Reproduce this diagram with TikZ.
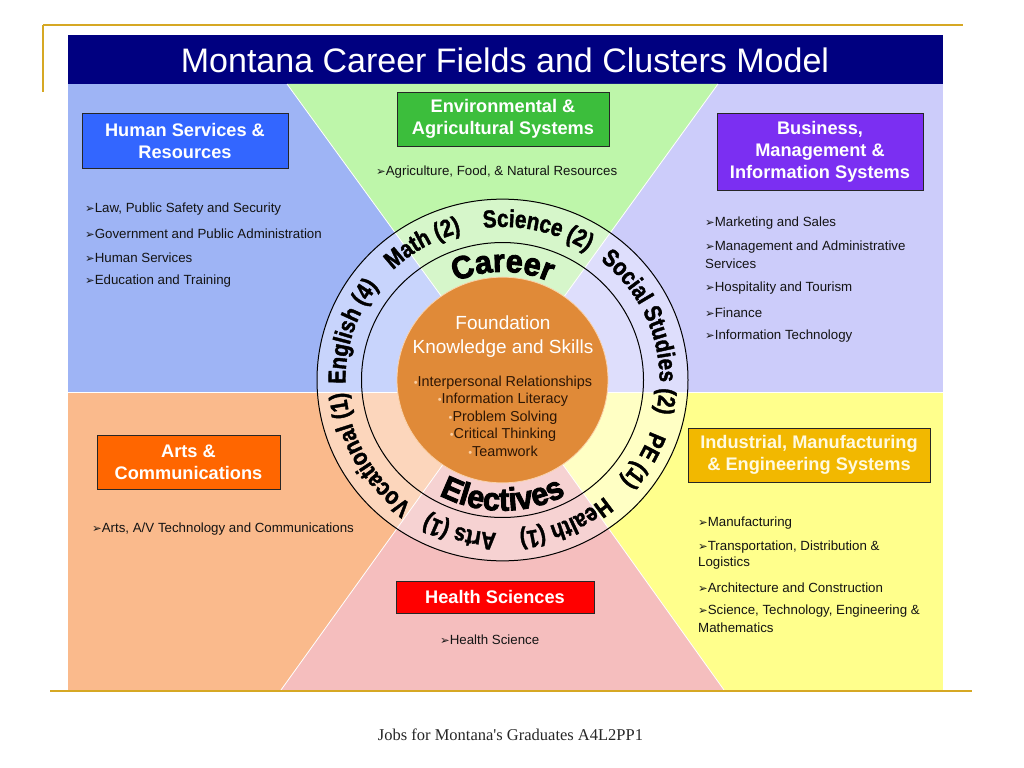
\documentclass[tikz,border=0pt]{standalone}
\usepackage{fontspec}
\setmainfont{Liberation Sans}
\newfontfamily\dv{DejaVu Sans}
\newfontfamily\serifft{Liberation Serif}
\newfontfamily\heavy[FakeBold=2.8,FakeStretch=0.95]{Liberation Sans Bold}
\newfontfamily\ringfam[FakeBold=1.6,FakeStretch=0.84]{Liberation Sans Bold}
\usetikzlibrary{decorations.text}

\definecolor{navy}{RGB}{0,0,128}
\definecolor{goldline}{RGB}{214,168,36}
\definecolor{blueA}{RGB}{158,180,245}
\definecolor{greenA}{RGB}{190,246,170}
\definecolor{lavA}{RGB}{204,204,250}
\definecolor{peachA}{RGB}{250,186,140}
\definecolor{pinkA}{RGB}{245,190,190}
\definecolor{yellowA}{RGB}{255,255,140}
\definecolor{blueB}{RGB}{200,212,252}
\definecolor{greenB}{RGB}{214,246,202}
\definecolor{lavB}{RGB}{222,222,252}
\definecolor{peachB}{RGB}{252,214,188}
\definecolor{pinkB}{RGB}{246,210,210}
\definecolor{yellowB}{RGB}{255,255,196}
\definecolor{hsblue}{RGB}{51,102,255}
\definecolor{envgreen}{RGB}{60,190,60}
\definecolor{buspurple}{RGB}{123,47,242}
\definecolor{artsorange}{RGB}{255,102,0}
\definecolor{indgold}{RGB}{242,184,0}
\definecolor{hlthred}{RGB}{255,0,0}
\definecolor{core}{RGB}{224,138,56}
\definecolor{corerim}{RGB}{250,210,170}
\definecolor{bulcol}{RGB}{250,205,160}
\definecolor{coretext}{RGB}{45,22,5}
\definecolor{indtext}{RGB}{255,250,225}

\newcommand\bul{{\dv\fontsize{11.5bp}{11.5bp}\selectfont ➢}}
\newcommand\dotb{{\color{bulcol}\fontsize{11bp}{11bp}\selectfont •}}
\newcommand\itemfont{\fontsize{13.3bp}{16bp}\selectfont}
\newcommand\boxfont{\bfseries\fontsize{18.2bp}{22bp}\selectfont}
\newcommand\ringfont{\ringfam\fontsize{24.5bp}{26bp}\selectfont}
\newcommand\bigringfont{\heavy\fontsize{32bp}{34bp}\selectfont}
\newcommand\ringlabel[2]{\path[decorate,decoration={text along path,text align=center,text={|\ringfont|#2}}] (#1+45:157) arc[start angle=#1+45,end angle=#1-45,radius=157];}

\tikzset{
  box/.style={draw=black!85, line width=0.8bp, text=white, font=\boxfont, align=center, inner sep=0pt},
  item/.style={anchor=west, font=\itemfont, text=black!92, inner sep=0pt, yshift=-1.5bp},
  sep/.style={white, line width=0.8bp},
  ring/.style={black, line width=1bp}
}

\begin{document}
\begin{tikzpicture}[x=1bp,y=1bp]
\useasboundingbox (0,0) rectangle (1024,-768);
\fill[white] (0,0) rectangle (1024,-768);

% gold frame lines
\draw[goldline, line width=2bp] (43,-25) -- (963,-25);
\draw[goldline, line width=2bp] (43,-25) -- (43,-92);

% title bar
\fill[navy] (68,-35) rectangle (943,-84);
\node[text=white, font=\fontsize{34bp}{36bp}\selectfont, inner sep=0pt] (title) at (505,-60) {Montana Career Fields and Clusters Model};

% outer regions
\fill[blueA] (68,-84) rectangle (503,-392);
\fill[lavA] (503,-84) rectangle (943,-392);
\fill[greenA] (287,-84) -- (718,-84) -- (503,-381) -- cycle;
\fill[peachA] (68,-392) rectangle (503,-690);
\fill[yellowA] (503,-392) rectangle (943,-690);
\fill[pinkA] (281,-690) -- (495,-392) -- (511,-392) -- (724,-690) -- cycle;

% lighter regions inside the outer ring
\begin{scope}
\clip (502.5,-380) ellipse [x radius=185.5, y radius=180.9];
\fill[blueB] (68,-84) rectangle (503,-392);
\fill[lavB] (503,-84) rectangle (943,-392);
\fill[greenB] (287,-84) -- (718,-84) -- (503,-381) -- cycle;
\fill[peachB] (68,-392) rectangle (503,-690);
\fill[yellowB] (503,-392) rectangle (943,-690);
\fill[pinkB] (281,-690) -- (495,-392) -- (511,-392) -- (724,-690) -- cycle;
\end{scope}

% separators
\draw[sep] (287,-84) -- (503,-381) -- (718,-84);
\draw[sep] (281,-690) -- (495,-392);
\draw[sep] (724,-690) -- (511,-392);
\draw[sep] (68,-392) -- (943,-392);

% bottom gold line
\draw[goldline, line width=2bp] (50,-691) -- (972,-691);

% rings
\begin{scope}[shift={(502.5,-380)}, yscale=0.975]
\draw[ring] (0,0) circle (185.5);
\draw[ring] (0,0) circle (141);
\fill[core] (0,0) circle (105.5);
\draw[corerim, line width=0.8bp] (0,0) circle (105.5);
\ringlabel{162}{English (4)}
\ringlabel{120}{Math (2)}
\ringlabel{77}{Science (2)}
\ringlabel{19.5}{Social Studies (2)}
\ringlabel{-30}{PE (1)}
\ringlabel{-66.5}{Health (1)}
\ringlabel{-105.5}{Arts (1)}
\ringlabel{209.5}{Vocational (1)}
\path[decorate,decoration={text along path,text align=center,text={|\bigringfont|Career}}] (150:111) arc[start angle=150,end angle=30,radius=111];
\path[decorate,decoration={text along path,text align=center,text={|\bigringfont|Electives}}] (-150:134) arc[start angle=-150,end angle=-30,radius=134];
\end{scope}

% core text
\node[text=white, font=\fontsize{19bp}{24bp}\selectfont, align=center, inner sep=0pt] (found) at (503,-337) {Foundation\\Knowledge and Skills};
\node[text=coretext, font=\fontsize{14.4bp}{17.5bp}\selectfont, align=center, inner sep=0pt] (skills) at (503,-416) {\dotb Interpersonal Relationships\\\dotb Information Literacy\\\dotb Problem Solving\\\dotb Critical Thinking\\\dotb Teamwork};

% boxes
\node[box, fill=hsblue, minimum width=206bp, minimum height=55bp] (hs) at (185,-140.5) {Human Services \&\\Resources};
\node[box, fill=envgreen, minimum width=212bp, minimum height=54bp] (env) at (503,-119) {Environmental \&\\Agricultural Systems};
\node[box, fill=buspurple, minimum width=206bp, minimum height=77bp] (bus) at (820,-151.5) {Business,\\Management \&\\Information Systems};
\node[box, fill=artsorange, minimum width=183bp, minimum height=54bp] (arts) at (188.5,-462) {Arts \&\\Communications};
\node[box, fill=indgold, text=indtext, minimum width=242bp, minimum height=54bp] (ind) at (809,-455) {Industrial, Manufacturing\\\& Engineering Systems};
\node[box, fill=hlthred, minimum width=198bp, minimum height=32bp] (hlth) at (495,-597) {Health Sciences};

% lists
\node[item] (ag1) at (376,-171) {\bul Agriculture, Food, \& Natural Resources};

\node[item] (hs1) at (85,-208) {\bul Law, Public Safety and Security};
\node[item] (hs2) at (85,-232) {\bul Government and Public Administration};
\node[item] (hs3) at (85,-256) {\bul Human Services};
\node[item] (hs4) at (85,-280) {\bul Education and Training};

\node[item] (bu1) at (705,-222) {\bul Marketing and Sales};
\node[item] (bu2) at (705,-246) {\bul Management and Administrative};
\node[item] (bu2b) at (705,-262.5) {Services};
\node[item] (bu3) at (705,-287) {\bul Hospitality and Tourism};
\node[item] (bu4) at (705,-311) {\bul Finance};
\node[item] (bu5) at (705,-335) {\bul Information Technology};

\node[item] (ar1) at (92,-528) {\bul Arts, A/V Technology and Communications};

\node[item] (in1) at (698,-521.5) {\bul Manufacturing};
\node[item] (in2) at (698,-546) {\bul Transportation, Distribution \&};
\node[item] (in2b) at (698,-562) {Logistics};
\node[item] (in3) at (698,-586.5) {\bul Architecture and Construction};
\node[item] (in4) at (698,-610) {\bul Science, Technology, Engineering \&};
\node[item] (in4b) at (698,-626.5) {Mathematics};

\node[item] (he1) at (440,-638) {\bul Health Science};

% footer
\node[text=black!85, font=\serifft\fontsize{16.5bp}{18bp}\selectfont, inner sep=0pt] (foot) at (510.5,-735) {Jobs for Montana's Graduates A4L2PP1};
\end{tikzpicture}
\end{document}
